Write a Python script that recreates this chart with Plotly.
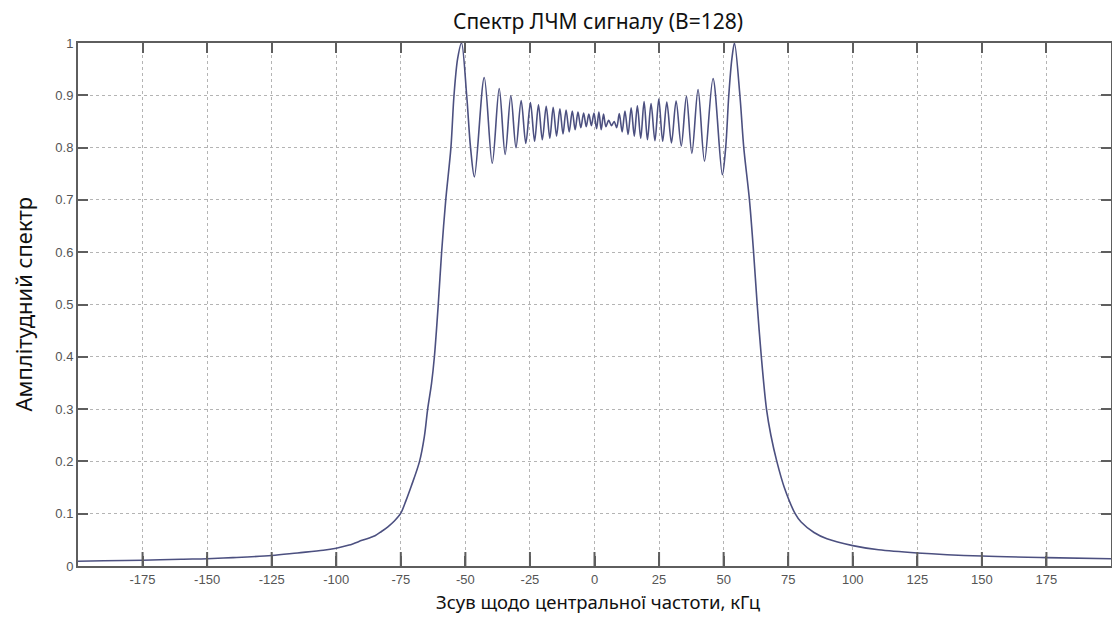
#!/usr/bin/env python3

import plotly.graph_objects as go

# ==========================================
# DATA
# ==========================================
# left tail and rising edge, kHz / amplitude
left_edge_x = [-200, -190, -175, -160, -150, -140, -125, -115, -105, -100, -95, -90,
               -85, -82.5, -80, -77.5, -75, -73, -71.0, -67.8, -65.9, -64.6, -63.1,
               -62.0, -60.5, -59.2, -57.6, -55.6, -54.4, -53.0, -51.5, -49.5, -48.0]
left_edge_y = [0.009, 0.010, 0.011, 0.013, 0.014, 0.016, 0.020, 0.025, 0.030, 0.034,
               0.040, 0.049, 0.058, 0.066, 0.075, 0.086, 0.101, 0.125, 0.152, 0.199,
               0.247, 0.300, 0.349, 0.400, 0.500, 0.600, 0.700, 0.800, 0.900, 0.970,
               1.000, 0.900, 0.800]

# ripple extrema across the passband
ripple_x = [-46.5, -42.7, -39.6, -36.9, -34.6, -32.4, -30.4, -28.4, -26.6, -24.8,
            -23.2, -21.7, -20.2, -18.7, -17.3, -16.0, -14.7, -13.4, -12.2, -11.0,
            -9.8, -8.6, -7.5, -6.4, -5.3, -4.2, -3.2, -2.2, -1.2, -0.2,
            0.8, 1.7, 2.6, 3.5, 4.4, 5.5, 6.6, 7.6, 8.6, 9.6,
            10.7, 11.8, 13.0, 14.2, 15.4, 16.6, 17.9, 19.2, 20.5, 21.9,
            23.4, 24.9, 26.4, 28.0, 29.8, 31.6, 33.6, 35.6, 37.7, 40.1,
            42.6, 45.9, 49.5]
ripple_y = [0.744, 0.934, 0.770, 0.913, 0.787, 0.899, 0.800, 0.890, 0.808, 0.886,
            0.812, 0.882, 0.815, 0.879, 0.818, 0.877, 0.822, 0.874, 0.826, 0.872,
            0.830, 0.870, 0.834, 0.868, 0.838, 0.866, 0.840, 0.864, 0.842, 0.866,
            0.836, 0.868, 0.834, 0.864, 0.840, 0.852, 0.842, 0.850, 0.838, 0.865,
            0.830, 0.870, 0.825, 0.876, 0.822, 0.880, 0.818, 0.888, 0.815, 0.884,
            0.813, 0.893, 0.812, 0.887, 0.809, 0.889, 0.803, 0.898, 0.789, 0.911,
            0.774, 0.932, 0.748]

# right peak, falling edge and tail
right_edge_x = [50.8, 52.0, 53.2, 54.2, 56.3, 57.8, 60.0, 61.6, 63.0, 64.6, 66.6,
                68.3, 70.6, 73.5, 77.7, 80, 85, 90, 100, 110, 125, 150, 175, 200]
right_edge_y = [0.800, 0.900, 0.970, 1.000, 0.900, 0.800, 0.700, 0.600, 0.500, 0.400,
                0.300, 0.250, 0.200, 0.150, 0.100, 0.084, 0.064, 0.052, 0.039, 0.031,
                0.025, 0.019, 0.016, 0.014]

x_ticks = [-175, -150, -125, -100, -75, -50, -25, 0, 25, 50, 75, 100, 125, 150, 175]
y_ticks = [0, 0.1, 0.2, 0.3, 0.4, 0.5, 0.6, 0.7, 0.8, 0.9, 1]
y_tick_text = ["0", "0.1", "0.2", "0.3", "0.4", "0.5", "0.6", "0.7", "0.8", "0.9", "1"]

title_text = "Спектр ЛЧМ сигналу (B=128)"
x_title = "Зсув щодо центральної частоти, кГц"
y_title = "Амплітудний спектр"

FRAME = "#5e5e5e"


# ==========================================
# PLOT
# ==========================================
freq = left_edge_x + ripple_x + right_edge_x
amp = left_edge_y + ripple_y + right_edge_y

fig = go.Figure()
fig.add_trace(
    go.Scatter(
        x=freq,
        y=amp,
        mode="lines",
        line=dict(color="#4c5080", width=1.6, shape="spline", smoothing=0.9),
        showlegend=False,
    )
)

# bottom inside ticks (plotly drops them on the main side, so mark them on y=0)
fig.add_trace(
    go.Scatter(
        x=x_ticks,
        y=[0] * len(x_ticks),
        mode="markers",
        marker=dict(symbol="line-ns", size=20, line=dict(width=2, color=FRAME)),
        cliponaxis=True,
        hoverinfo="skip",
        showlegend=False,
    )
)

# MATLAB-like box: inside ticks mirrored on all four sides, dotted grid
axis_common = dict(
    showline=True,
    linecolor=FRAME,
    linewidth=2,
    mirror="allticks",
    ticks="inside",
    ticklen=10,
    tickwidth=2,
    tickcolor=FRAME,
    showgrid=True,
    gridcolor="#b4b4b4",
    griddash="dot",
    gridwidth=1,
    zeroline=False,
    tickfont=dict(family="Liberation Sans, Arial", size=13, color="#555555"),
)

fig.update_xaxes(
    range=[-200, 200],
    tickmode="array",
    tickvals=x_ticks,
    ticktext=[str(t) for t in x_ticks],
    **axis_common,
)
fig.update_yaxes(
    range=[0, 1],
    tickmode="array",
    tickvals=y_ticks,
    ticktext=y_tick_text,
    **axis_common,
)

# the page body has an 8px margin, so the figure sits 8px right and down
# and only 1104px of its width are shown
fig.update_layout(
    template="none",
    width=1104,
    height=628,
    margin=dict(l=70, r=1, t=35, b=70, autoexpand=False),
    paper_bgcolor="white",
    plot_bgcolor="white",
    title=dict(
        text=title_text,
        x=590 / 1104,
        xanchor="center",
        y=1 - 14 / 628,
        yanchor="middle",
        font=dict(family="Noto Sans, Open Sans", size=21, color="#111111"),
    ),
    annotations=[
        dict(
            text=x_title,
            xref="paper", yref="paper",
            x=520 / 1033, y=-35 / 523,
            xanchor="center", yanchor="middle",
            showarrow=False,
            font=dict(family="Noto Sans, Open Sans", size=18.5, color="#111111"),
        ),
        dict(
            text=y_title,
            xref="paper", yref="paper",
            x=-56 / 1033, y=0.5,
            xanchor="center", yanchor="middle",
            textangle=-90,
            showarrow=False,
            font=dict(family="Noto Sans, Open Sans", size=22, color="#111111"),
        ),
    ],
)

fig.write_html("out.html")
